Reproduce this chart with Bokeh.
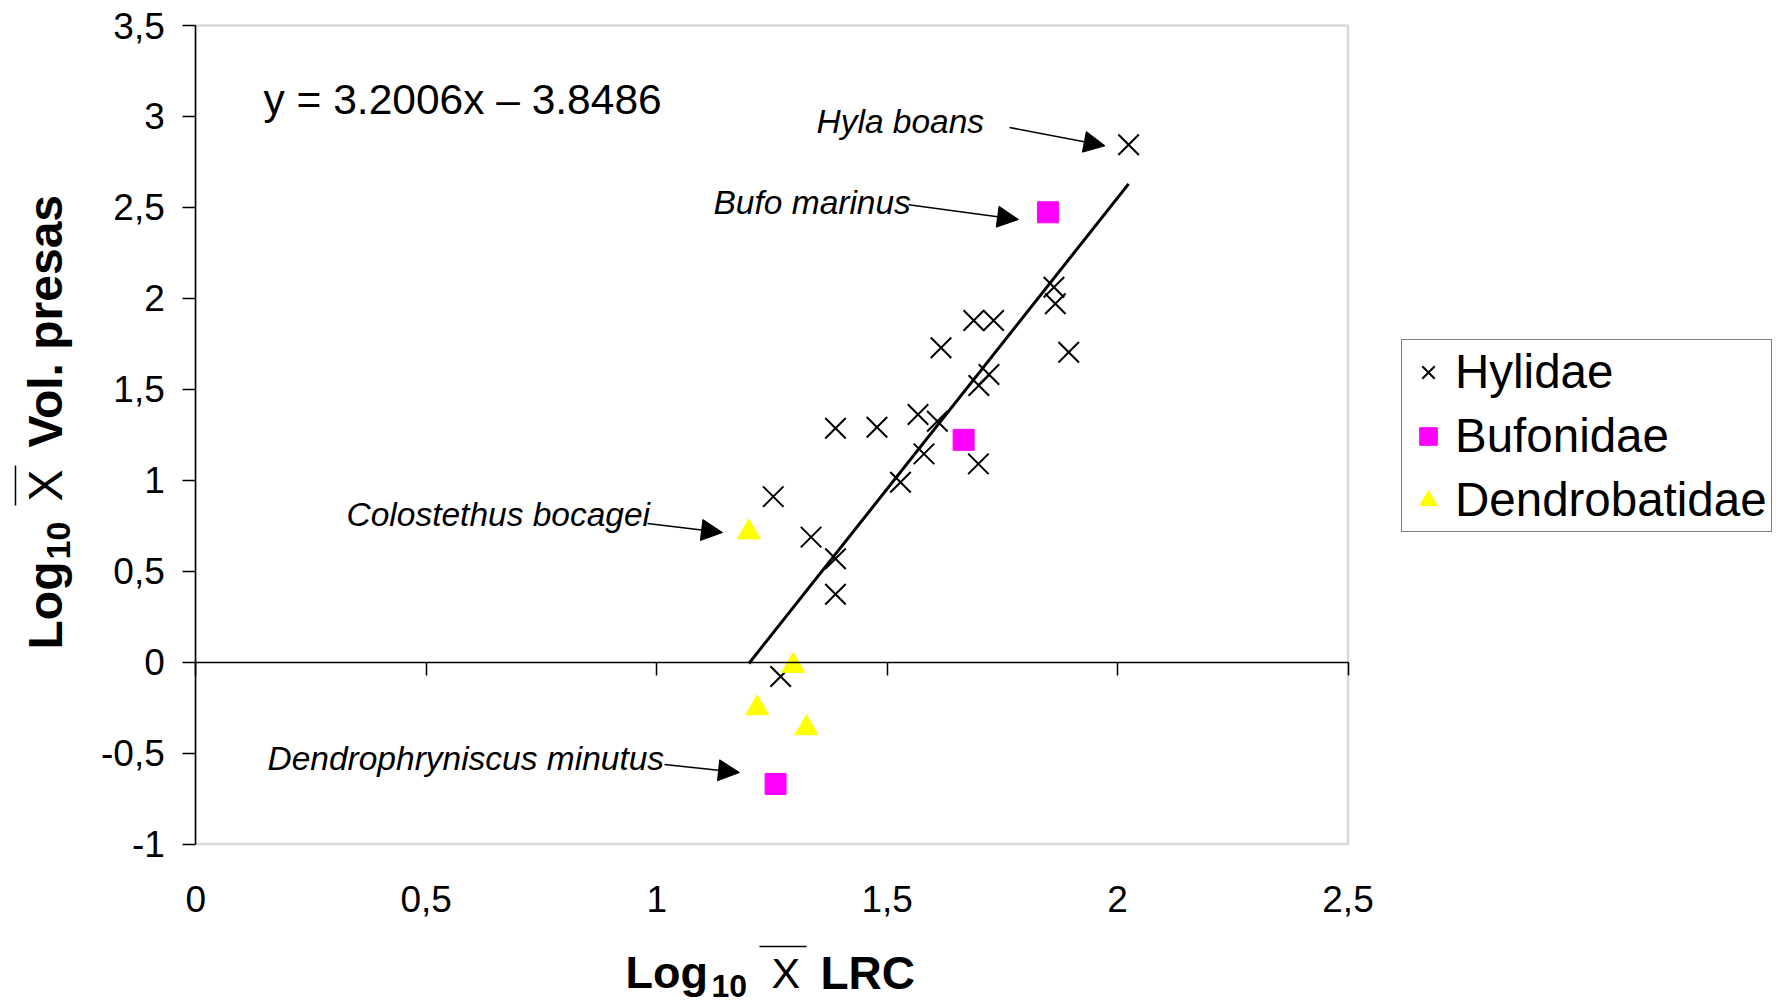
import math
from bokeh.plotting import figure
from bokeh.models import (Range1d, LinearAxis, FixedTicker, Label, Arrow, NormalHead,
                          Legend, LegendItem, BoxAnnotation)
from bokeh.embed import file_html
from bokeh.resources import INLINE

# ---------------- data ----------------
hyl_x = [2.024, 1.862, 1.865, 1.688, 1.731, 1.617, 1.894, 1.721, 1.699, 1.567, 1.609,
         1.478, 1.388, 1.580, 1.698, 1.529, 1.253, 1.335, 1.388, 1.388, 1.269]
hyl_y = [2.844, 2.061, 1.970, 1.878, 1.878, 1.728, 1.704, 1.581, 1.521, 1.361, 1.324,
         1.291, 1.286, 1.145, 1.090, 0.989, 0.910, 0.687, 0.568, 0.373, -0.079]
buf_x = [1.849, 1.666, 1.258]
buf_y = [2.473, 1.222, -0.670]
den_x = [1.200, 1.296, 1.218, 1.325]
den_y = [0.714, -0.020, -0.253, -0.363]

slope = 3.2006
intercept = -3.8486
equation = "y = 3.2006x \u2013 3.8486"

x_ticks = [0, 0.5, 1, 1.5, 2, 2.5]
x_tick_labels = ["0", "0,5", "1", "1,5", "2", "2,5"]
y_ticks = [-1, -0.5, 0, 0.5, 1, 1.5, 2, 2.5, 3, 3.5]
y_tick_labels = ["-1", "-0,5", "0", "0,5", "1", "1,5", "2", "2,5", "3", "3,5"]

series_names = ["Hylidae", "Bufonidae", "Dendrobatidae"]
ann_text = ["Hyla boans", "Bufo marinus", "Colostethus bocagei", "Dendrophryniscus minutus"]

# ---------------- layout ----------------
FONT = "Liberation Sans"
W, H = 1780, 1005
PL, PR, PT, PB = 195.3, 1347.5, 25.0, 843.5          # plot-area edges in page px
x_lo, x_hi = x_ticks[0], x_ticks[-1]
y_lo, y_hi = y_ticks[0], y_ticks[-1]
SX = (PR - PL) / (x_hi - x_lo)
SY = (PB - PT) / (y_hi - y_lo)

p = figure(frame_width=W, frame_height=H,
           min_border_left=0, min_border_right=0, min_border_top=0, min_border_bottom=0,
           x_range=Range1d(x_lo - PL / SX, x_lo + (W - PL) / SX),
           y_range=Range1d(y_lo - (H - PB) / SY, y_hi + PT / SY),
           x_axis_location=None, y_axis_location=None,
           output_backend="svg", toolbar_location=None,
           background_fill_color="white", border_fill_color="white")
p.grid.visible = False
p.outline_line_color = None


def sx(X):
    return X


def sy(Y):
    return H - Y


# plot-area border (grey)
p.add_layout(BoxAnnotation(left=x_lo, right=x_hi, bottom=y_lo, top=y_hi,
                           fill_alpha=0, line_color="#808080", line_width=2.5, level="underlay"))

# y axis at x = 0
ya = LinearAxis(fixed_location=x_lo, ticker=FixedTicker(ticks=y_ticks), bounds=(y_lo, y_hi))
ya.major_label_overrides = {t: l for t, l in zip(y_ticks, y_tick_labels)}
ya.axis_line_color = "black"
ya.axis_line_width = 1.5
ya.major_tick_out = 13
ya.major_tick_in = 0
ya.major_tick_line_width = 1.5
ya.minor_tick_line_color = None
ya.major_label_standoff = 18
ya.major_label_text_font = FONT
ya.major_label_text_font_size = "37px"
ya.major_label_text_color = "black"
p.add_layout(ya, "left")

# x tick labels at the bottom of the plot area
xa = LinearAxis(fixed_location=y_lo, ticker=FixedTicker(ticks=x_ticks), bounds=(x_lo, x_hi))
xa.major_label_overrides = {t: l for t, l in zip(x_ticks, x_tick_labels)}
xa.axis_line_color = None
xa.major_tick_line_color = None
xa.minor_tick_line_color = None
xa.major_label_standoff = 36
xa.major_label_text_font = FONT
xa.major_label_text_font_size = "37px"
xa.major_label_text_color = "black"
p.add_layout(xa, "below")

# x axis line crossing at y = 0
xa0 = LinearAxis(fixed_location=0, ticker=FixedTicker(ticks=x_ticks), bounds=(x_lo, x_hi))
xa0.major_label_overrides = {t: "" for t in x_ticks}
xa0.major_label_text_color = None
xa0.axis_line_color = "black"
xa0.axis_line_width = 1.5
xa0.major_tick_out = 13
xa0.major_tick_in = 0
xa0.major_tick_line_width = 1.5
xa0.minor_tick_line_color = None
p.add_layout(xa0, "below")

# regression line over the data range
all_x = hyl_x + buf_x + den_x
fit_x = [min(all_x), max(all_x)]
fit_y = [slope * v + intercept for v in fit_x]
p.line(fit_x, fit_y, line_color="black", line_width=3)

r_h = p.scatter(hyl_x, hyl_y, marker="x", size=29, line_color="black", line_width=2)
r_b = p.scatter(buf_x, buf_y, marker="square", size=21, fill_color="#ff00ff", line_color="#ff00ff")
r_d = p.scatter(den_x, den_y, marker="triangle", size=23, fill_color="#ffff00", line_color="#ffff00")

legend = Legend(items=[LegendItem(label=series_names[0], renderers=[r_h]),
                       LegendItem(label=series_names[1], renderers=[r_b]),
                       LegendItem(label=series_names[2], renderers=[r_d])],
                location=(1401, H - 532),
                label_text_font=FONT, label_text_font_size="47.5px", label_text_color="black",
                glyph_width=44, glyph_height=50, label_standoff=5, padding=4, spacing=9,
                margin=0, border_line_color="black", border_line_width=1.5,
                background_fill_color="white", background_fill_alpha=1)
p.add_layout(legend, "center")


def text(X, Yc, t, size, style="normal", angle=0.0):
    # (X, Yc): start of the text, vertical centre of its capitals (page px)
    p.add_layout(Label(x=sx(X), y=sy(Yc), x_units="screen", y_units="screen", text=t,
                       text_font=FONT, text_font_size=size, text_font_style=style,
                       text_color="black", text_baseline="alphabetic", angle=angle))


def line(X0, Y0, X1, Y1, head=None):
    p.add_layout(Arrow(x_start=sx(X0), y_start=sy(Y0), x_end=sx(X1), y_end=sy(Y1),
                       start_units="screen", end_units="screen", start=None, end=head,
                       line_color="black", line_width=1.5))


# equation
text(263, 99, equation, "42.5px")

# species annotations with arrows
ann_pos = [(816, 121), (713, 202), (346, 514), (267, 758)]
arrow_pos = [((1009, 127), (1104.5, 145.3)),
             ((908, 204.3), (1018, 219)),
             ((647, 523), (722, 532)),
             ((664, 764), (739, 772))]
for t, (X, Y), ((X0, Y0), (X1, Y1)) in zip(ann_text, ann_pos, arrow_pos):
    text(X, Y, t, "33.5px", style="italic")
    line(X0, Y0, X1, Y1, head=NormalHead(size=21, fill_color="black", line_color="black"))

# x-axis title:  Log10 X(overline) LRC
text(625, 972, "Log", "45px", "bold")
text(711, 985, "10", "32px", "bold")
text(771, 972, "X", "43px")
line(759, 946, 806, 946)
text(820, 972, "LRC", "46px", "bold")

# y-axis title (rotated)
A = math.pi / 2
text(45, 649, "Log", "48px", "bold", A)
text(58, 559, "10", "34px", "bold", A)
text(45, 501, "X", "48px", "normal", A)
line(15, 505, 15, 465)
text(45, 447, "Vol. presas", "48px", "bold", A)

open("out.html", "w").write(file_html(p, INLINE))
